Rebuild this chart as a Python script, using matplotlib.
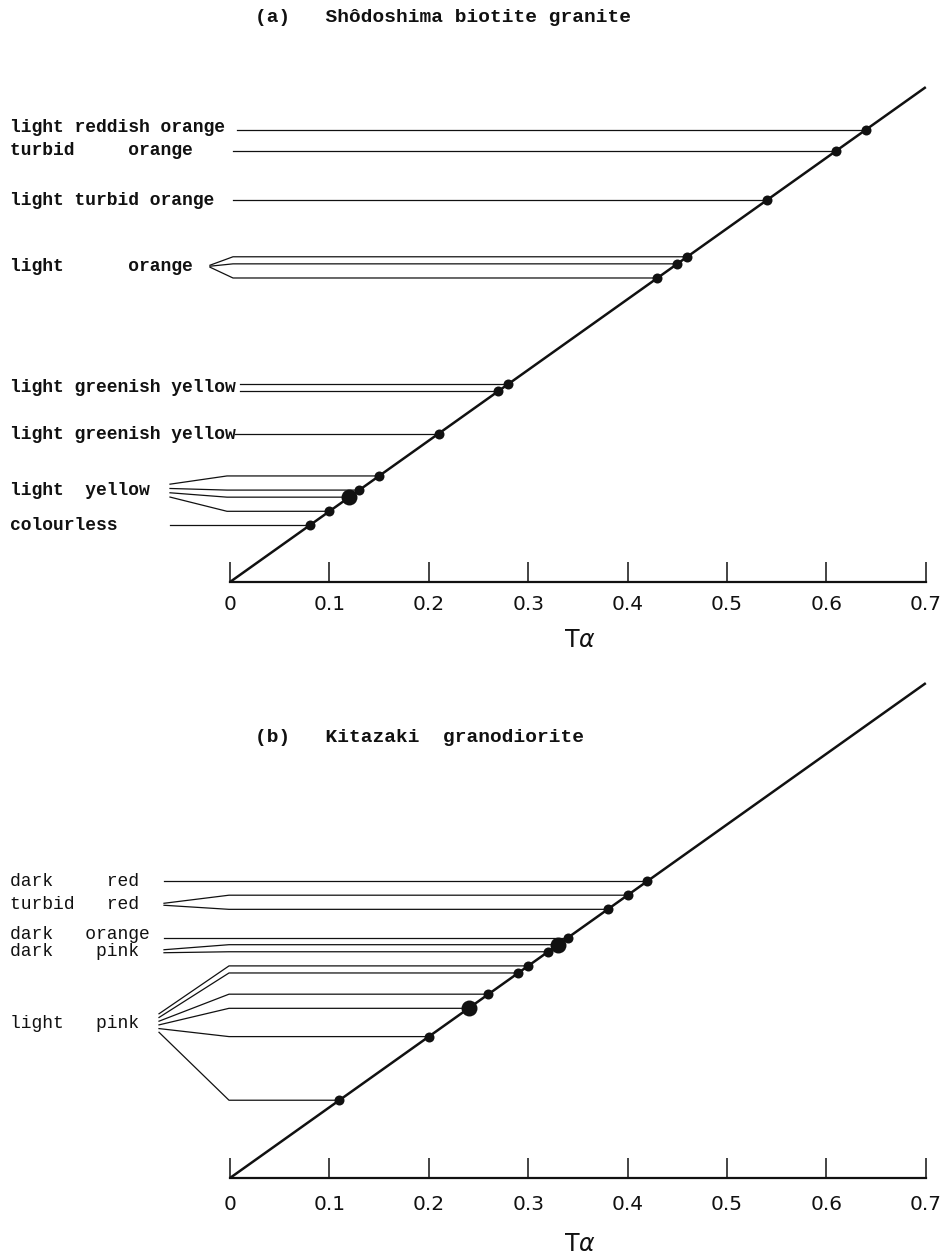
import numpy as np
import matplotlib.pyplot as plt

# Ta values along the diagonal, grouped by colour name
a_labels = ['light reddish orange', 'turbid     orange', 'light turbid orange',
            'light      orange', 'light greenish yellow', 'light greenish yellow',
            'light  yellow', 'colourless']
a_values = [[0.64], [0.61], [0.54], [0.46, 0.45, 0.43], [0.28, 0.27], [0.21],
            [0.15, 0.13, 0.12, 0.10], [0.08]]
a_counts = [[1], [1], [1], [1, 1, 1], [1, 1], [1], [1, 1, 2, 1], [1]]

b_labels = ['dark     red', 'turbid   red', 'dark   orange', 'dark    pink', 'light   pink']
b_values = [[0.42], [0.40, 0.38], [0.34], [0.33, 0.32],
            [0.30, 0.29, 0.26, 0.24, 0.20, 0.11]]
b_counts = [[1], [1, 1], [1], [2, 1], [1, 1, 1, 2, 1, 1]]

ticks = [0, 0.1, 0.2, 0.3, 0.4, 0.5, 0.6, 0.7]
tick_labels = ['0', '0.1', '0.2', '0.3', '0.4', '0.5', '0.6', '0.7']

titles = ['(a)   Shôdoshima biotite granite', '(b)   Kitazaki  granodiorite']

# layout (pixels): leader start x, knee x (None = straight), fan spread, label nudge
a_layout = [(237, None, 0, -2), (233, None, 0, 0), (233, None, 0, 0), (210, 233, 1, 0),
            (240, None, 0, 0), (235, None, 0, 1), (170, 227, 4.3, -3), (170, None, 0, 0)]
b_layout = [(164, None, 0, 0), (164, 229, 2, 2), (164, None, 0, -3), (164, 229, 3, 3),
            (159, 229, 3.7, 10)]

W, H = 951, 1260
X0 = 230          # pixel of Ta = 0
SX = 994.0        # pixels per unit, x
SY = 707.0        # pixels per unit, y
INK = '#111111'

plt.rcParams['mathtext.fontset'] = 'dejavusans'
fig = plt.figure(figsize=(W / 100, H / 100), dpi=100)


def panel(axis_y, top_y, labels, values, counts, layout, weight, pad, xlab_off):
    ax = fig.add_axes([0, (H - axis_y) / H, 1, (axis_y - top_y) / H])
    ax.set_xlim(-X0 / SX, (W - X0) / SX)
    ax.set_ylim(0, (axis_y - top_y) / SY)
    for s in ['top', 'left', 'right']:
        ax.spines[s].set_visible(False)
    ax.spines['bottom'].set_bounds(ticks[0], ticks[-1])
    ax.spines['bottom'].set_linewidth(1.6)
    ax.spines['bottom'].set_color(INK)
    ax.set_yticks([])
    ax.set_xticks(ticks)
    ax.set_xticklabels(tick_labels, fontsize=14.5, family='DejaVu Sans')
    ax.tick_params(axis='x', direction='in', length=14.5, width=1.1, pad=pad, colors=INK)
    ax.patch.set_alpha(0)

    diag = np.array([ticks[0], ticks[-1]])
    ax.plot(diag, diag, color=INK, lw=1.8, solid_capstyle='butt', zorder=3)

    for lab, vals, cnts, (sx, kx, spread, dy) in zip(labels, values, counts, layout):
        vals = np.array(vals)
        ly = vals.mean() - dy / SY
        x_start = (sx - X0) / SX
        n = len(vals)
        for i, v in enumerate(vals):
            if kx is None:
                ax.plot([x_start, v], [v, v], color=INK, lw=0.9, zorder=2)
            else:
                y0 = ly - (i - (n - 1) / 2) * spread / SY
                xk = (kx - X0) / SX
                ax.plot([x_start, xk, v], [y0, v, v], color=INK, lw=0.9, zorder=2)
        for v, c in zip(vals, cnts):
            ax.plot(v, v, 'o', color=INK, ms=7.2 if c == 1 else 11.5, mec='none', zorder=4)
        ax.text(-(X0 - 10) / SX, ly, lab, ha='left', va='center', fontsize=13,
                family='Liberation Mono', weight=weight, color=INK)

    ax.text(0.352, -xlab_off / SY, r'T$\alpha$', ha='center', va='center', fontsize=17,
            color=INK, clip_on=False)
    return ax


panel(582, 30, a_labels, a_values, a_counts, a_layout, 'bold', 9, 58)
panel(1178, 650, b_labels, b_values, b_counts, b_layout, 'normal', 12, 66)

fig.text(255 / W, 1 - 17 / H, titles[0], ha='left', va='center', fontsize=14,
         family='Liberation Mono', weight='bold', color=INK)
fig.text(255 / W, 1 - 738 / H, titles[1], ha='left', va='center', fontsize=14,
         family='Liberation Mono', weight='bold', color=INK)

fig.savefig('out.png', dpi=100, facecolor='white')
